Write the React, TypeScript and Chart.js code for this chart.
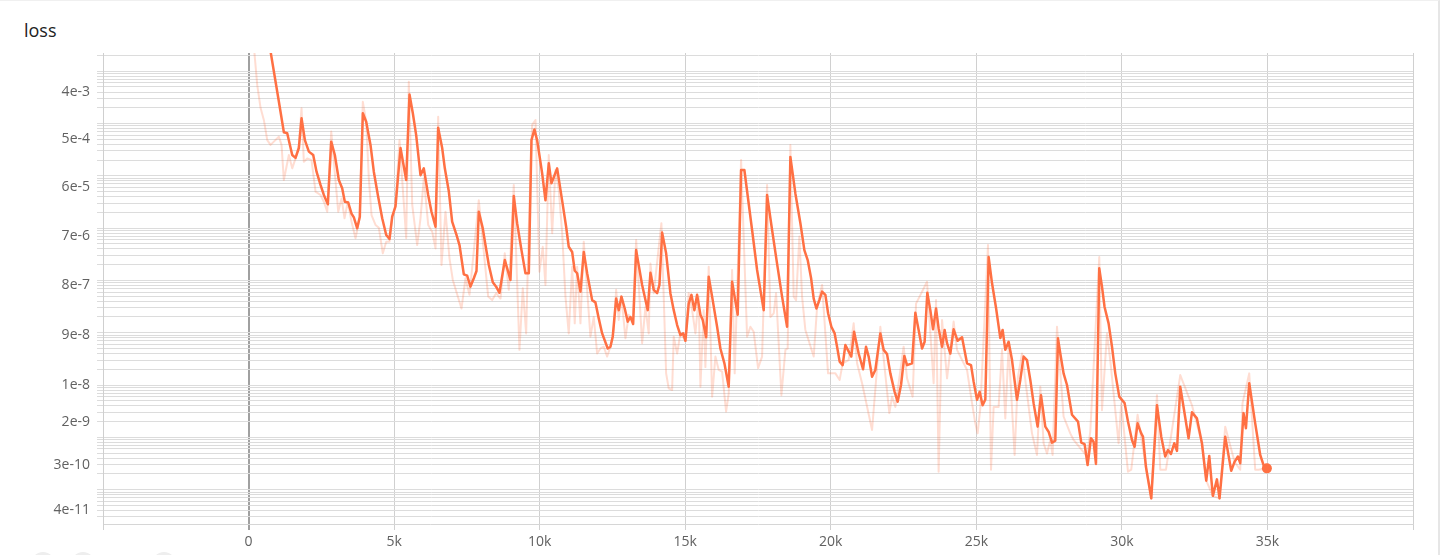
import React, { useEffect, useRef } from "react";
import { Chart, registerables } from "chart.js";

Chart.register(...registerables);

// ---- data (step, loss) ----
const SMOOTH_STEPS = [
  150, 450, 755, 1042, 1213, 1328, 1500, 1614, 1728, 1820, 1935, 2072, 2221, 2335, 2472, 2586, 2724, 2839, 2964, 3101,
  3216, 3307, 3422, 3537, 3617, 3732, 3822, 3926, 4041, 4189, 4303, 4441, 4591, 4729, 4842, 4934, 5048, 5220, 5415, 5529,
  5643, 5758, 5906, 6020, 6170, 6284, 6422, 6513, 6651, 6742, 6880, 6994, 7143, 7246, 7394, 7509, 7623, 7738, 7830, 7909,
  8046, 8138, 8253, 8390, 8505, 8619, 8803, 8997, 9111, 9226, 9375, 9512, 9627, 9718, 9821, 9913, 10085, 10199, 10313, 10405,
  10601, 10771, 10909, 10999, 11116, 11205, 11287, 11401, 11515, 11631, 11803, 11916, 12029, 12146, 12338, 12431, 12510, 12627, 12716, 12809,
  12922, 13025, 13118, 13211, 13314, 13520, 13712, 13805, 13918, 14035, 14114, 14207, 14344, 14491, 14605, 14722, 14835, 14928, 15007, 15120,
  15213, 15316, 15408, 15522, 15601, 15718, 15807, 15944, 16095, 16208, 16346, 16494, 16610, 16803, 16919, 17032, 17297, 17469, 17696, 17812,
  17984, 18155, 18327, 18499, 18612, 18784, 18956, 19093, 19207, 19324, 19413, 19506, 19609, 19701, 19815, 19908, 20020, 20133, 20216, 20305,
  20408, 20501, 20705, 20800, 20958, 21108, 21211, 21301, 21418, 21531, 21703, 21816, 21933, 22046, 22194, 22297, 22413, 22527, 22620, 22791,
  22905, 23018, 23135, 23224, 23316, 23420, 23513, 23616, 23705, 23822, 23911, 23994, 24107, 24220, 24358, 24509, 24680, 24818, 24907, 25024,
  25113, 25216, 25309, 25422, 25539, 25676, 25824, 25903, 25995, 26109, 26226, 26397, 26510, 26624, 26740, 26854, 26967, 27105, 27221, 27369,
  27482, 27599, 27712, 27805, 27884, 27997, 28114, 28286, 28492, 28605, 28719, 28822, 28938, 29028, 29110, 29223, 29316, 29405, 29543, 29660,
  29773, 29910, 30093, 30209, 30346, 30436, 30539, 30664, 30724, 30827, 31009, 31205, 31352, 31489, 31583, 31686, 31799, 31892, 32005, 32118,
  32290, 32407, 32578, 32750, 32898, 33001, 33125, 33265, 33354, 33550, 33756, 33870, 33986, 34065, 34179, 34261, 34374, 34580, 34752, 34866,
  34981,
];
const SMOOTH_LOSS = [
  1.5, 0.09, 2.4e-2, 2.6e-3, 6.8e-4, 6.5e-4, 2.5e-4, 2.2e-4, 3.4e-4, 1.26e-3, 4.8e-4, 2.9e-4, 2.5e-4, 1.2e-4, 6.7e-5, 4.3e-5, 2.85e-5, 4.5e-4, 2.5e-4, 8.3e-5,
  5.8e-5, 3.2e-5, 3.1e-5, 1.9e-5, 1.6e-5, 9.9e-6, 1.65e-5, 1.57e-3, 1.08e-3, 3.9e-4, 1.2e-4, 4.3e-5, 1.54e-5, 7.4e-6, 6.2e-6, 1.65e-5, 2.6e-5, 3.4e-4, 8.3e-5, 3.6e-3,
  1.57e-3, 6.0e-4, 1.03e-4, 1.39e-4, 4.3e-5, 2.06e-5, 1.06e-5, 8.3e-4, 3.4e-4, 1.39e-4, 5.0e-5, 1.33e-5, 7.4e-6, 4.75e-6, 1.31e-6, 1.23e-6, 7.6e-7, 1.1e-6, 1.51e-6, 2.06e-5,
  9.9e-6, 4.75e-6, 1.97e-6, 9.2e-7, 7.6e-7, 5.8e-7, 2.45e-6, 1.02e-6, 4.1e-5, 1.24e-5, 3.8e-6, 1.37e-6, 1.37e-6, 4.8e-4, 7.7e-4, 4.8e-4, 1.12e-4, 3.4e-5, 1.73e-4, 7.2e-5,
  1.39e-4, 3.4e-5, 1.06e-5, 4.4e-6, 3.5e-6, 1.53e-6, 1.37e-6, 6.1e-7, 3.5e-6, 1.37e-6, 4.2e-7, 3.8e-7, 1.88e-7, 9.7e-8, 5.0e-8, 5.4e-8, 8.4e-8, 4.5e-7, 2.7e-7, 4.9e-7,
  2.9e-7, 1.63e-7, 2.0e-7, 1.47e-7, 3.8e-6, 8.2e-7, 2.7e-7, 1.4e-6, 6.6e-7, 5.7e-7, 8.2e-7, 8.2e-6, 3.3e-6, 5.7e-7, 2.7e-7, 1.4e-7, 9.0e-8, 9.7e-8, 7.0e-8, 3.6e-7,
  5.3e-7, 2.7e-7, 5.3e-7, 2.2e-7, 1.75e-7, 8.2e-8, 1.18e-6, 4.2e-7, 1.3e-7, 5.0e-8, 2.6e-8, 9.3e-9, 9.4e-7, 2.2e-7, 1.29e-4, 1.29e-4, 9.2e-6, 1.58e-6, 2.7e-7, 4.3e-5,
  9.2e-6, 2.1e-6, 4.9e-7, 1.3e-7, 2.3e-4, 4.6e-5, 1.24e-5, 3.8e-6, 2.45e-6, 1.1e-6, 4.5e-7, 2.9e-7, 4.2e-7, 6.1e-7, 5.3e-7, 2.35e-7, 1.3e-7, 9.7e-8, 5.4e-8, 2.8e-8,
  2.4e-8, 5.8e-8, 3.5e-8, 1.04e-7, 4.0e-8, 2.0e-8, 5.4e-8, 3.5e-8, 1.44e-8, 1.94e-8, 9.7e-8, 4.7e-8, 3.9e-8, 1.67e-8, 7.4e-9, 4.8e-9, 1.0e-8, 3.6e-8, 2.4e-8, 2.6e-8,
  2.4e-7, 1.13e-7, 5.0e-8, 6.7e-8, 5.8e-7, 2.7e-7, 1.16e-7, 2.9e-7, 1.21e-7, 5.4e-8, 1.13e-7, 6.3e-8, 4.0e-8, 1.16e-7, 7.0e-8, 8.2e-8, 2.6e-8, 2.4e-8, 1.16e-8, 5.2e-9,
  7.4e-9, 4.1e-9, 5.3e-9, 2.8e-6, 8.8e-7, 3.0e-7, 7.9e-8, 1.13e-7, 4.7e-8, 6.7e-8, 3.0e-8, 5.2e-9, 1.25e-8, 3.5e-8, 3.0e-8, 1.25e-8, 4.5e-9, 1.6e-9, 6.4e-9, 1.6e-9,
  1.28e-9, 7.9e-10, 8.6e-10, 7.8e-8, 4.0e-8, 1.67e-8, 1.0e-8, 2.7e-9, 2.0e-9, 7.9e-10, 7.4e-10, 2.95e-10, 9.6e-10, 8.2e-10, 3.1e-10, 1.7e-6, 7.6e-7, 3.1e-7, 1.51e-7, 5.4e-8,
  1.67e-8, 6.0e-9, 4.5e-9, 2.0e-9, 8.9e-10, 6.6e-10, 1.85e-9, 1.19e-9, 1.03e-9, 2.7e-10, 6.8e-11, 4.1e-9, 1.03e-9, 4.3e-10, 5.7e-10, 4.8e-10, 7.7e-10, 5.5e-10, 9.3e-9, 3.8e-9,
  9.6e-10, 3.0e-9, 2.3e-9, 7.7e-10, 1.48e-10, 4.4e-10, 7.6e-11, 1.57e-10, 6.8e-11, 1.03e-9, 2.3e-10, 3.4e-10, 4.3e-10, 3.2e-10, 2.9e-9, 1.49e-9, 1.08e-8, 1.85e-9, 4.6e-10, 2.95e-10,
  2.55e-10,
];

const RAW_STEPS = [
  100, 299, 412, 525, 642, 755, 869, 1040, 1133, 1212, 1384, 1500, 1614, 1727, 1820, 1899, 2016, 2163, 2301, 2472,
  2586, 2703, 2840, 3080, 3194, 3297, 3410, 3537, 3674, 3812, 3925, 4042, 4131, 4224, 4361, 4475, 4612, 4729, 4842, 4935,
  5048, 5185, 5415, 5505, 5622, 5793, 5906, 6020, 6171, 6308, 6422, 6514, 6628, 6765, 6902, 7016, 7314, 7452, 7589, 7909,
  8231, 8369, 8506, 8654, 8801, 8939, 9111, 9306, 9420, 9536, 9627, 9742, 9856, 9993, 10106, 10199, 10312, 10429, 10542, 10656,
  10773, 10886, 10999, 11116, 11205, 11287, 11401, 11514, 11744, 11858, 11974, 12088, 12201, 12318, 12431, 12544, 12627, 12716, 12809, 12946,
  13060, 13197, 13314, 13520, 13633, 13746, 13805, 13918, 14182, 14344, 14433, 14550, 14605, 14722, 14835, 15007, 15120, 15237, 15350, 15463,
  15522, 15635, 15693, 15807, 15924, 16037, 16150, 16267, 16404, 16494, 16610, 16700, 16919, 17125, 17239, 17352, 17503, 17640, 17812, 17926,
  18040, 18121, 18304, 18441, 18520, 18612, 18726, 18808, 18921, 19014, 19127, 19413, 19530, 19701, 19907, 20158, 20305, 20408, 20614, 20786,
  20903, 21075, 21418, 21703, 22012, 22105, 22218, 22503, 22620, 22812, 22929, 23306, 23533, 23616, 23705, 23822, 23994, 24220, 24337, 24680,
  24852, 24965, 25044, 25137, 25401, 25504, 25594, 25765, 25882, 25995, 26109, 26315, 26431, 26569, 26912, 27084, 27197, 27311, 27427, 27541,
  27620, 27771, 27997, 28227, 28341, 28801, 28914, 29223, 29316, 29488, 29601, 29886, 29979, 30209, 30322, 30539, 30827, 31009, 31205, 31319,
  31514, 32005, 32407, 32750, 32898, 33125, 33354, 33550, 33870, 34065, 34144, 34374, 34580, 34693, 34981,
];
const RAW_LOSS = [
  0.1, 5.4e-3, 2.0e-3, 1.17e-3, 4.8e-4, 3.9e-4, 4.5e-4, 5.6e-4, 3.9e-4, 8.3e-5, 2.5e-4, 1.39e-4, 2.15e-4, 3.9e-4, 1.95e-3, 1.86e-4, 2.15e-4, 2.0e-4, 5.0e-5, 4.3e-5,
  3.2e-5, 2.06e-5, 7.0e-4, 2.06e-5, 3.7e-5, 1.54e-5, 3.2e-5, 1.33e-5, 6.4e-6, 1.54e-5, 2.6e-3, 1.08e-3, 9.0e-5, 1.78e-5, 1.15e-5, 1.02e-5, 3.3e-6, 5.5e-6, 5.5e-6, 1.54e-5,
  2.8e-5, 4.8e-4, 6.4e-6, 6.3e-3, 2.8e-5, 4.75e-6, 1.54e-5, 9.0e-5, 1.15e-5, 8.5e-6, 4.1e-6, 1.35e-3, 1.97e-6, 2.06e-5, 2.65e-6, 1.02e-6, 2.9e-7, 1.1e-6, 5.3e-7, 3.4e-5,
  4.9e-7, 4.2e-7, 5.7e-7, 4.5e-7, 3.3e-6, 6.6e-7, 6.7e-5, 4.7e-8, 7.1e-7, 9.7e-8, 1.06e-5, 9.4e-4, 1.17e-3, 1.47e-6, 4.4e-6, 8.2e-7, 2.5e-4, 8.0e-6, 1.29e-4, 5.4e-5,
  8.0e-6, 4.9e-7, 9.7e-8, 1.83e-6, 1.51e-7, 1.83e-6, 1.51e-7, 5.5e-6, 8.4e-8, 2.0e-7, 4.0e-8, 5.0e-8, 5.4e-8, 3.5e-8, 5.4e-8, 1.13e-7, 6.6e-7, 1.75e-7, 4.9e-7, 7.8e-8,
  2.2e-7, 1.75e-7, 5.9e-6, 6.3e-8, 3.1e-7, 9.7e-8, 2.1e-6, 5.7e-7, 1.24e-5, 1.67e-8, 8.6e-9, 8.0e-9, 8.4e-8, 4.0e-8, 9.7e-8, 7.3e-8, 5.7e-7, 2.7e-7, 9.7e-8, 4.9e-7,
  9.3e-9, 2.7e-7, 2.2e-8, 1.83e-6, 6.0e-9, 3.5e-8, 1.94e-8, 1.8e-8, 3.1e-9, 6.9e-9, 1.58e-6, 1.67e-8, 2.0e-4, 8.4e-8, 1.3e-7, 1.04e-7, 2.1e-8, 3.5e-8, 6.7e-5, 2.0e-7,
  2.35e-7, 5.7e-7, 6.4e-9, 4.7e-8, 5.0e-8, 3.9e-4, 4.9e-7, 4.2e-7, 6.9e-6, 4.9e-7, 1.13e-7, 3.5e-8, 3.1e-7, 8.2e-7, 1.67e-8, 1.67e-8, 1.25e-8, 2.6e-8, 3.0e-8, 1.51e-7,
  2.6e-8, 1.08e-8, 1.38e-9, 1.3e-7, 2.9e-9, 6.0e-9, 3.8e-9, 5.4e-8, 1.34e-8, 6.0e-9, 3.6e-7, 9.4e-7, 1.08e-8, 4.2e-7, 2.2e-10, 1.75e-7, 1.34e-8, 1.63e-7, 4.7e-8, 1.94e-8,
  4.5e-9, 1.85e-9, 1.19e-9, 3.6e-9, 4.75e-6, 2.4e-10, 3.8e-9, 3.8e-9, 4.7e-8, 2.3e-9, 5.4e-8, 4.6e-10, 1.44e-8, 4.0e-8, 1.19e-9, 4.6e-10, 9.3e-9, 7.7e-10, 4.9e-10, 8.9e-10,
  4.6e-10, 1.3e-7, 2.5e-9, 1.19e-9, 8.9e-10, 4.3e-10, 1.28e-9, 2.8e-6, 3.3e-9, 9.7e-8, 3.0e-8, 7.7e-10, 4.5e-9, 2.2e-10, 2.4e-10, 2.7e-9, 2.7e-10, 6.8e-11, 6.4e-9, 2.4e-10,
  2.4e-10, 1.55e-8, 4.1e-9, 7.7e-10, 1.48e-10, 7.6e-11, 6.8e-11, 1.6e-9, 3.4e-10, 2.4e-10, 4.5e-9, 1.67e-8, 2.4e-10, 2.4e-10, 2.55e-10,
];

// ---- axes ----
const X_MIN = -5000;
const X_MAX = 40000;
const X_STEP = 5000;
const X_TICK_VALUES = [0, 5000, 10000, 15000, 20000, 25000, 30000, 35000];
const X_TICK_LABELS = ["0", "5k", "10k", "15k", "20k", "25k", "30k", "35k"];

const Y_MIN = 2.2e-11;
const Y_MAX = 2.23e-2;
const Y_DECADES = [-11, -10, -9, -8, -7, -6, -5, -4, -3, -2];
const Y_MANTISSAS = [1, 2, 3, 4, 5, 6, 7, 8, 9];
const Y_LABEL_VALUES = [4e-3, 5e-4, 6e-5, 7e-6, 8e-7, 9e-8, 1e-8, 2e-9, 3e-10, 4e-11];
const Y_TICK_LABELS = ["4e-3", "5e-4", "6e-5", "7e-6", "8e-7", "9e-8", "1e-8", "2e-9", "3e-10", "4e-11"];

const ORANGE = "#ff7043";
const RAW_COLOR = "rgba(255,112,67,0.24)";
const FONT = '"Open Sans", "Noto Sans", sans-serif';

export default function App() {
  const canvasRef = useRef<HTMLCanvasElement | null>(null);

  useEffect(() => {
    const canvas = canvasRef.current;
    if (!canvas) return;

    const gridValues: number[] = [];
    Y_DECADES.forEach((e) => {
      Y_MANTISSAS.forEach((m) => {
        const v = Number(`${m}e${e}`);
        if (v >= Y_MIN && v <= Y_MAX) gridValues.push(v);
      });
    });

    const smooth = SMOOTH_STEPS.map((s, i) => ({ x: s, y: SMOOTH_LOSS[i] }));
    const raw = RAW_STEPS.map((s, i) => ({ x: s, y: RAW_LOSS[i] }));
    const lastIdx = smooth.length - 1;

    const chart = new Chart(canvas, {
      type: "line",
      data: {
        datasets: [
          {
            label: "smoothed",
            data: smooth,
            borderColor: ORANGE,
            backgroundColor: ORANGE,
            borderWidth: 2.5,
            borderJoinStyle: "round",
            tension: 0,
            fill: false,
            pointRadius: (ctx: any) => (ctx.dataIndex === lastIdx ? 5 : 0),
            pointBorderWidth: 0,
            pointBackgroundColor: ORANGE,
          },
          {
            label: "raw",
            data: raw,
            borderColor: RAW_COLOR,
            borderWidth: 2,
            borderJoinStyle: "round",
            tension: 0,
            fill: false,
            pointRadius: 0,
          },
        ],
      },
      options: {
        responsive: false,
        animation: false,
        events: [],
        layout: { padding: { top: 53, right: 29, bottom: 0, left: 0 } },
        plugins: { legend: { display: false }, tooltip: { enabled: false }, title: { display: false } },
        scales: {
          x: {
            type: "linear",
            min: X_MIN,
            max: X_MAX,
            afterBuildTicks: (scale: any) => {
              const t: any[] = [];
              for (let v = X_MIN; v <= X_MAX; v += X_STEP) t.push({ value: v });
              scale.ticks = t;
            },
            ticks: {
              autoSkip: false,
              maxRotation: 0,
              padding: 4,
              color: "#616161",
              font: { family: FONT, size: 14 },
              callback: (v: any) => {
                const i = X_TICK_VALUES.indexOf(Number(v));
                return i >= 0 ? X_TICK_LABELS[i] : "";
              },
            },
            grid: {
              color: (ctx: any) => (ctx.tick && ctx.tick.value === 0 ? "#a0a0a0" : "#d0d0d0"),
              lineWidth: (ctx: any) => (ctx.tick && ctx.tick.value === 0 ? 2 : 1),
              tickLength: 6,
            },
            border: { color: "#d6d6d6" },
            afterFit: (scale: any) => {
              scale.height = 31;
            },
          },
          y: {
            type: "logarithmic",
            min: Y_MIN,
            max: Y_MAX,
            afterBuildTicks: (scale: any) => {
              scale.ticks = gridValues.map((v) => ({ value: v }));
            },
            ticks: {
              autoSkip: false,
              padding: 7,
              color: "#616161",
              font: { family: FONT, size: 14 },
              callback: (v: any) => {
                const lv = Math.log10(Number(v));
                const i = Y_LABEL_VALUES.findIndex((t) => Math.abs(Math.log10(t) - lv) < 1e-6);
                return i >= 0 ? Y_TICK_LABELS[i] : "";
              },
            },
            grid: { color: "#dcdcdc", lineWidth: 1, tickLength: 6 },
            border: { color: "#cfcfcf" },
            afterFit: (scale: any) => {
              scale.width = 103;
            },
          },
        },
      } as any,
    });

    return () => chart.destroy();
  }, []);

  return (
    <div
      style={{
        position: "absolute",
        left: 0,
        top: 0,
        width: 1442,
        height: 555,
        overflow: "hidden",
        background: "#fff",
      }}
    >
      <div
        style={{
          position: "absolute",
          left: 0,
          top: 0,
          width: 1440,
          height: 555,
          boxSizing: "border-box",
          borderTop: "1px solid #f0f0f0",
          borderRight: "2px solid #e6e6e6",
        }}
      />
      <div
        style={{
          position: "absolute",
          left: 24,
          top: 18,
          fontFamily: FONT,
          fontSize: 18,
          color: "#212121",
          lineHeight: "normal",
        }}
      >
        loss
      </div>
      <canvas
        ref={canvasRef}
        width={1442}
        height={555}
        style={{ position: "absolute", left: 0, top: 0, display: "block" }}
      />
      {[43, 83, 164].map((cx) => (
        <div
          key={cx}
          style={{
            position: "absolute",
            left: cx - 12,
            top: 552,
            width: 24,
            height: 24,
            borderRadius: "50%",
            background: "#eeeeee",
          }}
        />
      ))}
    </div>
  );
}
